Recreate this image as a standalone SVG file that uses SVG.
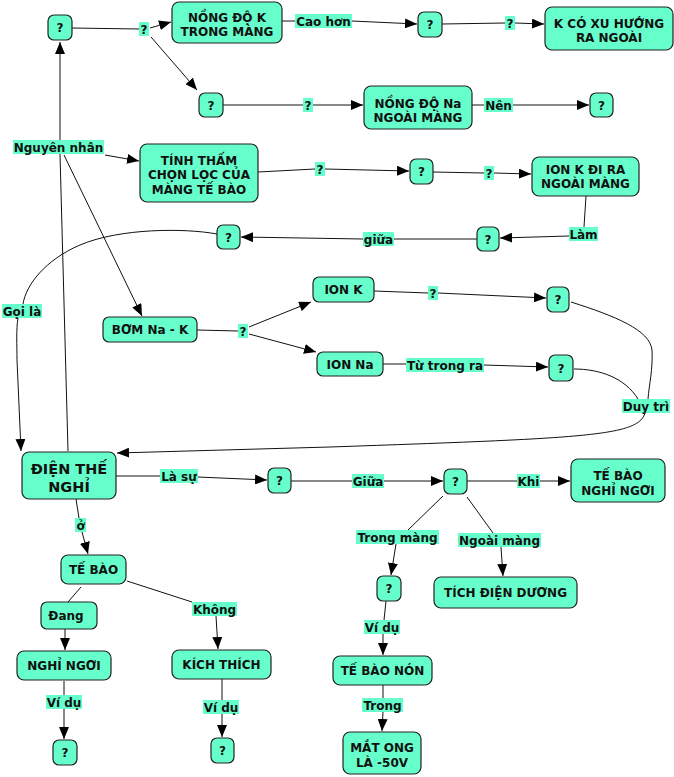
<svg xmlns="http://www.w3.org/2000/svg" width="674" height="777" viewBox="0 0 674 777">
<defs>
<marker id="ah" markerUnits="userSpaceOnUse" markerWidth="12" markerHeight="10" refX="12" refY="5" orient="auto">
<path d="M0,0 L12,5 L0,10 z" fill="#000"/>
</marker>
<style>
.n rect{fill:#66ffcc;stroke:#222;stroke-width:1.2}
.l rect{fill:#66ffcc;stroke:none}
text{font-family:"DejaVu Sans","Verdana",sans-serif;font-weight:bold;font-size:12px;fill:#111;text-anchor:middle}
.big{font-size:14.5px}
#connectors path{fill:none;stroke:#111;stroke-width:1}
#connectors path.a{marker-end:url(#ah)}
</style>
</defs>
<rect width="674" height="777" fill="#fff"/>
<g id="connectors">
<path d="M72,28 L139,29"/>
<path class="a" d="M150,28 L171,22"/>
<path class="a" d="M151,37 L197,90"/>
<path d="M282,21 L295,21"/>
<path class="a" d="M352,21 L417,24"/>
<path d="M442,24 L505,23"/>
<path class="a" d="M515,23 L544,24"/>
<path d="M223,105 L303,105"/>
<path class="a" d="M313,105 L363,105"/>
<path d="M472,105 L484,105"/>
<path class="a" d="M513,105 L589,105"/>
<path d="M68,451 L60,154"/>
<path class="a" d="M60,140 L60,42"/>
<path class="a" d="M105,155 L139,161"/>
<path class="a" d="M64,155 L142,316"/>
<path d="M258,172 L315,169"/>
<path class="a" d="M325,169 L409,171"/>
<path d="M433,172 L484,173"/>
<path class="a" d="M494,173 L531,174"/>
<path d="M586,196 L584,227"/>
<path class="a" d="M569,236 L500,238"/>
<path d="M477,239 L394,239"/>
<path class="a" d="M363,239 L241,237"/>
<path d="M217,234 C185,228 120,228 80,245 C45,260 26,285 23,304"/>
<path class="a" d="M18,318 C16,330 17,345 17,360 L21,451"/>
<path d="M197,330 L238,331"/>
<path class="a" d="M249,327 L311,302"/>
<path class="a" d="M249,334 L316,352"/>
<path d="M374,291 L428,293"/>
<path class="a" d="M438,293 L546,298"/>
<path d="M383,364 L406,364"/>
<path class="a" d="M484,365 L548,367"/>
<path d="M571,302 C615,316 650,330 652,350 C653,370 649,385 648,399"/>
<path d="M574,369 C600,369 625,378 638,399"/>
<path class="a" d="M645,413 C638,436 590,438 330,447 L117,453"/>
<path d="M116,476 L160,476"/>
<path class="a" d="M198,477 L267,480"/>
<path d="M291,481 L352,481"/>
<path class="a" d="M384,481 L443,481"/>
<path d="M467,481 L517,481"/>
<path class="a" d="M540,481 L570,481"/>
<path d="M443,496 L408,530"/>
<path class="a" d="M396,544 L391,575"/>
<path d="M467,497 L493,533"/>
<path class="a" d="M501,547 L503,576"/>
<path d="M386,601 L384,620"/>
<path class="a" d="M383,634 L383,655"/>
<path d="M383,685 L383,698"/>
<path class="a" d="M383,712 L382,731"/>
<path d="M76,499 L79,518"/>
<path class="a" d="M82,532 L88,554"/>
<path d="M81,587 L68,602"/>
<path class="a" d="M65,629 L65,650"/>
<path d="M127,581 L192,602"/>
<path class="a" d="M216,616 L218,649"/>
<path d="M64,681 L64,695"/>
<path class="a" d="M64,709 L64,739"/>
<path d="M222,679 L222,700"/>
<path class="a" d="M222,714 L222,737"/>
</g>
<g id="labels">
<g class="l" id="l1"><rect x="139" y="22" width="10" height="14"/><text x="144" y="33.5">?</text></g>
<g class="l" id="l2"><rect x="295" y="14" width="57" height="14"/><text x="323.5" y="25.5">Cao hơn</text></g>
<g class="l" id="l3"><rect x="505" y="16" width="10" height="14"/><text x="510" y="27.5">?</text></g>
<g class="l" id="l4"><rect x="303" y="98" width="10" height="14"/><text x="308" y="109.5">?</text></g>
<g class="l" id="l5"><rect x="484" y="98" width="29" height="14"/><text x="498.5" y="109.5">Nên</text></g>
<g class="l" id="l6"><rect x="13" y="140" width="91" height="14"/><text x="58.5" y="151.5">Nguyên nhân</text></g>
<g class="l" id="l7"><rect x="315" y="162" width="10" height="14"/><text x="320" y="173.5">?</text></g>
<g class="l" id="l8"><rect x="484" y="166" width="10" height="14"/><text x="489" y="177.5">?</text></g>
<g class="l" id="l9"><rect x="569" y="227" width="29" height="14"/><text x="583.5" y="238.5">Làm</text></g>
<g class="l" id="l10"><rect x="363" y="232" width="31" height="14"/><text x="378.5" y="243.5">giữa</text></g>
<g class="l" id="l11"><rect x="2" y="304" width="40" height="14"/><text x="22" y="315.5">Gọi là</text></g>
<g class="l" id="l12"><rect x="238" y="324" width="10" height="14"/><text x="243" y="335.5">?</text></g>
<g class="l" id="l13"><rect x="428" y="286" width="10" height="14"/><text x="433" y="297.5">?</text></g>
<g class="l" id="l14"><rect x="406" y="358" width="78" height="14"/><text x="445" y="369.5">Từ trong ra</text></g>
<g class="l" id="l15"><rect x="622" y="399" width="48" height="14"/><text x="646" y="410.5">Duy trì</text></g>
<g class="l" id="l16"><rect x="160" y="469" width="38" height="14"/><text x="179" y="480.5">Là sự</text></g>
<g class="l" id="l17"><rect x="352" y="474" width="32" height="14"/><text x="368" y="485.5">Giữa</text></g>
<g class="l" id="l18"><rect x="517" y="474" width="23" height="14"/><text x="528.5" y="485.5">Khi</text></g>
<g class="l" id="l19"><rect x="75" y="518" width="11" height="14"/><text x="80.5" y="529.5">ở</text></g>
<g class="l" id="l20"><rect x="192" y="602" width="45" height="14"/><text x="214.5" y="613.5">Không</text></g>
<g class="l" id="l21"><rect x="46" y="695" width="36" height="14"/><text x="64" y="706.5">Ví dụ</text></g>
<g class="l" id="l22"><rect x="203" y="700" width="36" height="14"/><text x="221" y="711.5">Ví dụ</text></g>
<g class="l" id="l23"><rect x="356" y="530" width="83" height="14"/><text x="397.5" y="541.5">Trong màng</text></g>
<g class="l" id="l24"><rect x="458" y="533" width="83" height="14"/><text x="499.5" y="544.5">Ngoài màng</text></g>
<g class="l" id="l25"><rect x="364" y="620" width="36" height="14"/><text x="382" y="631.5">Ví dụ</text></g>
<g class="l" id="l26"><rect x="362" y="698" width="41" height="14"/><text x="382.5" y="709.5">Trong</text></g>
</g>
<g id="nodes">
<g class="n" id="n1"><rect x="48" y="15" width="24" height="25" rx="6"/><text x="60" y="32">?</text></g>
<g class="n" id="n2"><rect x="172" y="2" width="110" height="41" rx="7"/><text x="227" y="21.5">NỒNG ĐỘ K</text><text x="227" y="35.5">TRONG MÀNG</text></g>
<g class="n" id="n3"><rect x="418" y="12" width="24" height="25" rx="6"/><text x="430" y="29">?</text></g>
<g class="n" id="n4"><rect x="545" y="7" width="128" height="43" rx="7"/><text x="609" y="27.5">K CÓ XU HƯỚNG</text><text x="609" y="42">RA NGOÀI</text></g>
<g class="n" id="n5"><rect x="199" y="93" width="24" height="24" rx="6"/><text x="211" y="109.5">?</text></g>
<g class="n" id="n6"><rect x="364" y="86" width="108" height="43" rx="7"/><text x="418" y="107.5">NỒNG ĐỘ Na</text><text x="418" y="121.5">NGOÀI MÀNG</text></g>
<g class="n" id="n7"><rect x="590" y="93" width="23" height="24" rx="6"/><text x="601.5" y="109.5">?</text></g>
<g class="n" id="n8"><rect x="140" y="144" width="118" height="58" rx="7"/><text x="199" y="164.5">TÍNH THẤM</text><text x="199" y="179">CHỌN LỌC CỦA</text><text x="199" y="193.5">MÀNG TẾ BÀO</text></g>
<g class="n" id="n9"><rect x="410" y="159" width="23" height="25" rx="6"/><text x="421.5" y="176">?</text></g>
<g class="n" id="n10"><rect x="532" y="157" width="107" height="39" rx="7"/><text x="585.5" y="173.5">ION K ĐI RA</text><text x="585.5" y="187.5">NGOÀI MÀNG</text></g>
<g class="n" id="n11"><rect x="477" y="227" width="22" height="24" rx="6"/><text x="488" y="243.5">?</text></g>
<g class="n" id="n12"><rect x="217" y="225" width="23" height="24" rx="6"/><text x="228.5" y="241.5">?</text></g>
<g class="n" id="n13"><rect x="313" y="277" width="61" height="25" rx="6"/><text x="343.5" y="294">ION K</text></g>
<g class="n" id="n14"><rect x="547" y="287" width="22" height="25" rx="6"/><text x="558" y="304">?</text></g>
<g class="n" id="n15"><rect x="103" y="317" width="94" height="25" rx="6"/><text x="150" y="334">BƠM Na - K</text></g>
<g class="n" id="n16"><rect x="317" y="352" width="66" height="24" rx="6"/><text x="350" y="368.5">ION Na</text></g>
<g class="n" id="n17"><rect x="549" y="355" width="24" height="26" rx="6"/><text x="561" y="372.5">?</text></g>
<g class="n" id="n18"><rect x="22" y="452" width="94" height="47" rx="7"/><text class="big" x="69" y="473.5">ĐIỆN THẾ</text><text class="big" x="69" y="491.5">NGHỈ</text></g>
<g class="n" id="n19"><rect x="268" y="468" width="23" height="25" rx="6"/><text x="279.5" y="485">?</text></g>
<g class="n" id="n20"><rect x="444" y="469" width="23" height="25" rx="6"/><text x="455.5" y="486">?</text></g>
<g class="n" id="n21"><rect x="571" y="459" width="94" height="43" rx="7"/><text x="618" y="479.5">TẾ BÀO</text><text x="618" y="494.5">NGHỈ NGƠI</text></g>
<g class="n" id="n22"><rect x="61" y="555" width="65" height="29" rx="7"/><text x="93.5" y="574">TẾ BÀO</text></g>
<g class="n" id="n23"><rect x="41" y="602" width="56" height="27" rx="6"/><text x="66" y="620">Đang</text></g>
<g class="n" id="n24"><rect x="17" y="651" width="94" height="29" rx="7"/><text x="64" y="670">NGHỈ NGƠI</text></g>
<g class="n" id="n25"><rect x="172" y="650" width="99" height="29" rx="7"/><text x="221.5" y="669">KÍCH THÍCH</text></g>
<g class="n" id="n26"><rect x="53" y="740" width="24" height="25" rx="6"/><text x="65" y="757">?</text></g>
<g class="n" id="n27"><rect x="211" y="738" width="23" height="25" rx="6"/><text x="222.5" y="755">?</text></g>
<g class="n" id="n28"><rect x="377" y="576" width="24" height="25" rx="6"/><text x="389" y="593">?</text></g>
<g class="n" id="n29"><rect x="434" y="577" width="143" height="31" rx="7"/><text x="505.5" y="597">TÍCH ĐIỆN DƯƠNG</text></g>
<g class="n" id="n30"><rect x="333" y="656" width="99" height="29" rx="7"/><text x="382.5" y="675">TẾ BÀO NÓN</text></g>
<g class="n" id="n31"><rect x="343" y="732" width="78" height="42" rx="7"/><text x="382" y="751.5">MẮT ONG</text><text x="382" y="766.5">LÀ -50V</text></g>
</g>
</svg>
